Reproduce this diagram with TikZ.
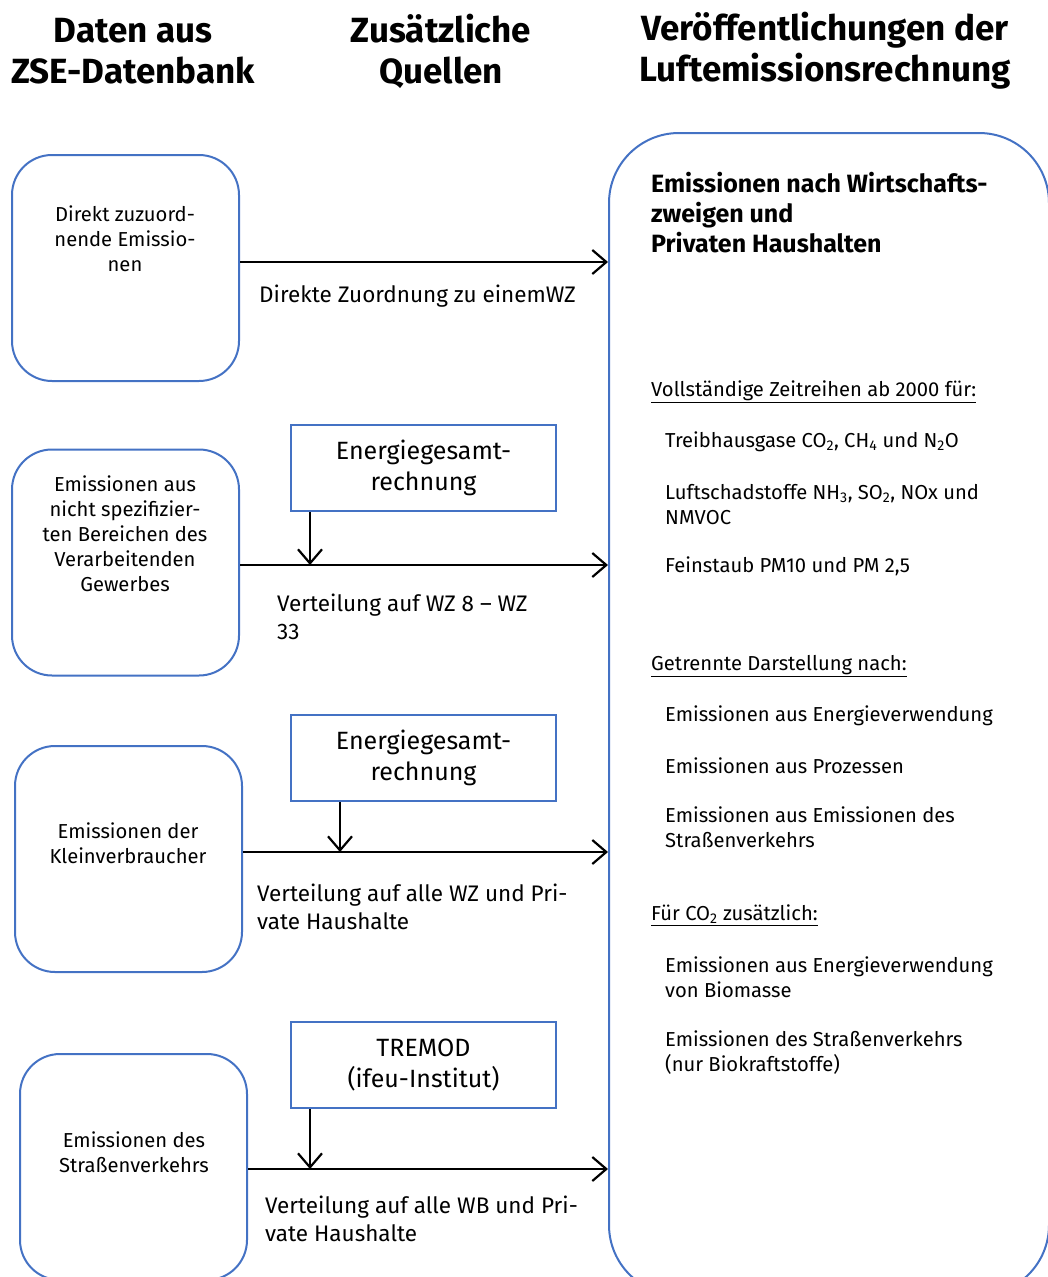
\documentclass[tikz,border=0pt]{standalone}
\usepackage{fontspec}
\setmainfont{Fira Sans}
\usetikzlibrary{arrows.meta}
\definecolor{umweltblau}{RGB}{68,114,196}
\begin{document}
\begin{tikzpicture}[x=1pt, y=-1pt,
  every node/.style={inner sep=0pt},
  kopf/.style={align=center, font=\bfseries\fontsize{35}{41}\selectfont},
  quelle/.style={draw=umweltblau, line width=2pt, rounded corners=40pt,
    minimum width=227pt, minimum height=226pt},
  quelltext/.style={align=center, font=\fontsize{20.2}{25}\selectfont},
  zusatz/.style={draw=umweltblau, line width=2pt, minimum width=265pt,
    minimum height=86pt, align=center, font=\fontsize{25}{31}\selectfont},
  weg/.style={anchor=west, align=left, font=\fontsize{22.5}{28}\selectfont},
  liste/.style={anchor=west, align=left, font=\fontsize{20.2}{25}\selectfont},
  pfeil/.style={line width=2.2pt, -{Straight Barb[length=14pt,width=24pt]}}]
  \useasboundingbox (0,0) rectangle (1047,1277);
  % Spaltenkoepfe
  \node[kopf] (k1) at (133,51) {Daten aus\\ZSE-Datenbank};
  \node[kopf] (k2) at (441,51) {Zusätzliche\\Quellen};
  \node[kopf] (k3) at (825,51) {Veröffentlichungen der\\Luftemissionsrechnung};
  % Ergebnis
  \node[draw=umweltblau, line width=2pt, rounded corners=70pt,
    minimum width=440pt, minimum height=1162pt] (erg) at (829,714) {};
  % Quellen links
  \node[quelle] (q1) at (125.5,268) {};
  \node[quelle] (q2) at (125.5,562.5) {};
  \node[quelle] (q3) at (128.5,859) {};
  \node[quelle] (q4) at (133.5,1167) {};
  \node[quelltext] (t1) at (125,239) {Direkt zuzuord-\\nende Emissio-\\nen};
  \node[quelltext] (t2) at (125,534) {Emissionen aus\\nicht spezifizier-\\ten Bereichen des\\Verarbeitenden\\Gewerbes};
  \node[quelltext] (t3) at (128,843.5) {Emissionen der\\Kleinverbraucher};
  \node[quelltext] (t4) at (134,1152) {Emissionen des\\Straßenverkehrs};
  % Zusaetzliche Quellen
  \node[zusatz] (z1) at (423.5,468) {Energiegesamt-\\rechnung};
  \node[zusatz] (z2) at (423.5,758) {Energiegesamt-\\rechnung};
  \node[zusatz] (z3) at (423.5,1065) {TREMOD\\(ifeu-Institut)};
  % Pfeile
  \coordinate (m1) at (310,565);
  \coordinate (m2) at (340,852);
  \coordinate (m3) at (310,1169);
  \draw[pfeil] ([yshift=6pt]q1.east) -- ([yshift=6pt]q1.east -| erg.west);
  \draw[pfeil] (q2.east |- m1) -- (m1 -| erg.west);
  \draw[pfeil] (q3.east |- m2) -- (m2 -| erg.west);
  \draw[pfeil] (q4.east |- m3) -- (m3 -| erg.west);
  \draw[pfeil] (z1.south -| m1) -- (m1);
  \draw[pfeil] (z2.south -| m2) -- (m2);
  \draw[pfeil] (z3.south -| m3) -- (m3);
  \node[weg] (w1) at (259,296) {Direkte Zuordnung zu einemWZ};
  \node[weg] (w2) at (277,616.5) {Verteilung auf WZ 8 -- WZ\\33};
  \node[weg] (w3) at (257,907) {Verteilung auf alle WZ und Pri-\\vate Haushalte};
  \node[weg] (w4) at (265,1219) {Verteilung auf alle WB und Pri-\\vate Haushalte};
  % Inhalt Ergebnis
  \node[anchor=west, align=left, font=\bfseries\fontsize{25}{30}\selectfont] (titel) at (651,213)
    {Emissionen nach Wirtschafts-\\zweigen und\\Privaten Haushalten};
  \node[liste] (u1) at (651,392) {\underline{Vollständige Zeitreihen ab 2000 für:}};
  \node[liste] (a1) at (665,442) {Treibhausgase CO\textsubscript{2}, CH\textsubscript{4} und N\textsubscript{2}O};
  \node[liste] (a2) at (665,504.5) {Luftschadstoffe NH\textsubscript{3}, SO\textsubscript{2}, NOx und\\NMVOC};
  \node[liste] (a3) at (665,566) {Feinstaub PM10 und PM 2,5};
  \node[liste] (u2) at (651,666) {\underline{Getrennte Darstellung nach:}};
  \node[liste] (b1) at (665,716) {Emissionen aus Energieverwendung};
  \node[liste] (b2) at (665,766) {Emissionen aus Prozessen};
  \node[liste] (b3) at (665,827.5) {Emissionen aus Emissionen des\\Straßenverkehrs};
  \node[liste] (u3) at (651,915) {\underline{Für CO\textsubscript{2} zusätzlich:}};
  \node[liste] (c1) at (665,977.5) {Emissionen aus Energieverwendung\\von Biomasse};
  \node[liste] (c2) at (665,1052.5) {Emissionen des Straßenverkehrs\\(nur Biokraftstoffe)};
\end{tikzpicture}
\end{document}
